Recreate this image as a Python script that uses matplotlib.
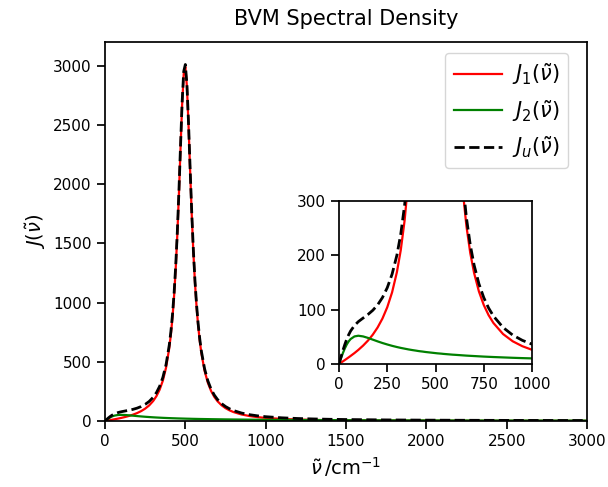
import matplotlib
matplotlib.use("Agg")
import matplotlib.pyplot as plt

# wavenumber grid (cm^-1) and spectral density values
nu = [0, 10, 20, 30, 40, 50, 60, 80, 100, 125, 150, 175, 200, 225, 250, 275,
      300, 320, 340, 360, 380, 400, 410, 420, 430, 440, 450, 460, 470, 480,
      490, 500, 510, 520, 530, 540, 550, 560, 570, 580, 590, 600, 620, 640,
      660, 680, 700, 725, 750, 775, 800, 850, 900, 950, 1000, 1100, 1200,
      1300, 1400, 1500, 1750, 2000, 2250, 2500, 2750, 3000]

J1 = [0, 2.4, 4.8, 7.2, 9.7, 12.2, 14.8, 20.1, 25.9, 33.9, 43.1, 54.0, 67.2,
      83.6, 104.5, 131.9, 169.2, 209.7, 264.5, 340.8, 451.0, 616.5, 730.7,
      874.4, 1056.1, 1285.5, 1571.4, 1915.3, 2299.4, 2669.5, 2931.4, 2990.0,
      2820.7, 2491.5, 2105.2, 1737.4, 1422.3, 1165.9, 961.9, 800.7, 673.1,
      571.3, 423.1, 323.6, 254.3, 204.4, 167.4, 133.4, 108.6, 89.9, 75.5,
      55.1, 41.8, 32.7, 26.1, 17.6, 12.5, 9.3, 7.1, 5.6, 3.3, 2.1, 1.5, 1.0,
      0.8, 0.6]

J2 = [0, 10.3, 20.0, 28.6, 35.9, 41.6, 45.9, 50.7, 52.0, 50.7, 48.0, 44.8,
      41.6, 38.6, 35.9, 33.4, 31.2, 29.6, 28.2, 26.8, 25.6, 24.5, 23.9, 23.4,
      23.0, 22.5, 22.0, 21.6, 21.2, 20.8, 20.4, 20.0, 19.6, 19.3, 19.0, 18.6,
      18.3, 18.0, 17.7, 17.4, 17.1, 16.9, 16.4, 15.9, 15.4, 15.0, 14.6, 14.1,
      13.6, 13.2, 12.8, 12.1, 11.4, 10.8, 10.3, 9.4, 8.6, 8.0, 7.4, 6.9, 5.9,
      5.2, 4.6, 4.2, 3.8, 3.5]

Ju = [0, 12.7, 24.8, 35.8, 45.6, 53.8, 60.7, 70.8, 77.9, 84.6, 91.1, 98.8,
      108.8, 122.2, 140.4, 165.3, 200.4, 239.3, 292.7, 367.6, 476.6, 641.0,
      754.6, 897.8, 1079.1, 1308.0, 1593.4, 1936.9, 2320.6, 2690.3, 2951.8,
      3010.0, 2840.3, 2510.8, 2124.2, 1756.0, 1440.6, 1183.9, 979.6, 818.1,
      690.2, 588.2, 439.5, 339.5, 269.7, 219.4, 182.0, 147.5, 122.2, 103.1,
      88.3, 67.2, 53.2, 43.5, 36.4, 27.0, 21.1, 17.3, 14.5, 12.5, 9.2, 7.3,
      6.1, 5.2, 4.6, 4.1]

main_xticks = [0, 500, 1000, 1500, 2000, 2500, 3000]
main_yticks = [0, 500, 1000, 1500, 2000, 2500, 3000]
inset_xticks = [0, 250, 500, 750, 1000]
inset_yticks = [0, 100, 200, 300]

labels = [r"$J_1(\tilde{\nu})$", r"$J_2(\tilde{\nu})$", r"$J_u(\tilde{\nu})$"]

plt.rcParams.update({
    "font.family": ["DejaVu Sans"],
    "axes.linewidth": 1.25,
    "xtick.major.size": 6,
    "ytick.major.size": 6,
    "xtick.major.width": 1.25,
    "ytick.major.width": 1.25,
    "xtick.labelsize": 11,
    "ytick.labelsize": 11,
})

fig = plt.figure(figsize=(6.08, 4.87), dpi=100)
ax = fig.add_axes([0.1727, 0.1355, 0.7928, 0.7783])

ax.plot(nu, J1, color="red", lw=1.6, label=labels[0])
ax.plot(nu, J2, color="green", lw=1.6, label=labels[1])
ax.plot(nu, Ju, color="black", lw=2, ls="--", label=labels[2])
ax.set_xlim(0, 3000)
ax.set_ylim(0, 3200)
ax.set_xticks(main_xticks)
ax.set_yticks(main_yticks)
ax.set_xlabel(r"$\tilde{\nu}\,/\mathrm{cm}^{-1}$", fontsize=14)
ax.set_ylabel(r"$J(\tilde{\nu})$", fontsize=14)
ax.set_title("BVM Spectral Density", fontsize=15, pad=12)
ax.legend(loc="upper right", bbox_to_anchor=(0.982, 0.998), fontsize=15,
          frameon=True, handlelength=2.3, handletextpad=0.5, labelspacing=0.5)

ins = fig.add_axes([0.5576, 0.2526, 0.3174, 0.3347])
ins.plot(nu, J1, color="red", lw=1.6)
ins.plot(nu, J2, color="green", lw=1.6)
ins.plot(nu, Ju, color="black", lw=2, ls="--")
ins.set_xlim(0, 1000)
ins.set_ylim(0, 300)
ins.set_xticks(inset_xticks)
ins.set_yticks(inset_yticks)

fig.savefig("out.png", dpi=100)
